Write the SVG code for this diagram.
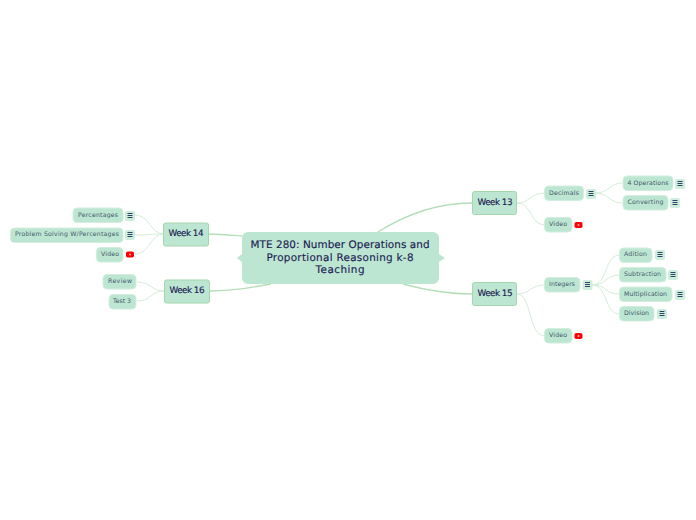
<svg xmlns="http://www.w3.org/2000/svg" width="696" height="520" viewBox="0 0 696 520">
<style>
text{font-family:"DejaVu Sans","Liberation Sans",sans-serif;text-anchor:middle;dominant-baseline:central;text-rendering:geometricPrecision}
.root{fill:#bce6d1}
.t0{font-size:10.4px;fill:#1c1c54;stroke:#1c1c54;stroke-width:.15}
.t1{font-size:8.8px;fill:#1c1c54;stroke:#1c1c54;stroke-width:.15}
.t2{font-size:6.2px;fill:#46566f}
.main{fill:#bce6d1;stroke:#a5d6ac;stroke-width:1}
.sub{fill:#bce6d1;stroke:#d3eedf;stroke-width:1}
.ib{fill:#cdeedd}
.bar{stroke:#2f4266;stroke-width:1}
.c1{fill:none;stroke:#b5deb8;stroke-width:1.3}
.c2{fill:none;stroke:#d5eed9;stroke-width:1}
</style>
<defs>
<g id="menu"><rect class="ib" x="-1" y="-1" width="10" height="10" rx="2"/><path class="bar" d="M1.5 1.5H6.5M1.5 3.5H6.5M1.5 5.5H6.5" fill="none"/></g>
<g id="yt"><rect x="0" y="0" width="8" height="6" rx="1.8" fill="#f00"/><circle cx="4" cy="3" r="1" fill="#ffb3b3"/></g>
</defs>
<g id="connectors">
<path class="c1" d="M378 232C405 215 435 203 472 203"/>
<path class="c1" d="M403 284C425 290 445 294 472 294"/>
<path class="c1" d="M242 236C230 235 220 234 209 234"/>
<path class="c1" d="M271 284C250 288 232 291 210 291"/>
<path class="c2" d="M517 203C530 203 530 193 545 193"/>
<path class="c2" d="M517 203C532 203 530 225 545 225"/>
<path class="c2" d="M595 193C610 193 608 183 623 183"/>
<path class="c2" d="M595 193C610 193 608 203 623 203"/>
<path class="c2" d="M517 294C530 294 530 285 545 285"/>
<path class="c2" d="M517 294C532 294 528 336 545 336"/>
<path class="c2" d="M592 285C608 285 604 255 620 255"/>
<path class="c2" d="M592 285C608 285 604 275 620 275"/>
<path class="c2" d="M592 285C608 285 604 294 620 294"/>
<path class="c2" d="M592 285C608 285 604 314 620 314"/>
<path class="c2" d="M164 234C150 234 150 215 135 215"/>
<path class="c2" d="M164 234C150 234 150 235 135 235"/>
<path class="c2" d="M164 234C150 234 150 254 135 254"/>
<path class="c2" d="M165 291C150 291 152 282 137 282"/>
<path class="c2" d="M165 291C150 291 152 301 137 301"/>
</g>
<g id="central"><path class="root" d="M248 232H433a6 6 0 0 1 6 6V254L445 258 439 262V278a6 6 0 0 1-6 6H248a6 6 0 0 1-6-6V262L237 258 242 254V238a6 6 0 0 1 6-6Z"/>
<text class="t0" x="340" y="245" textLength="179">MTE 280: Number Operations and</text>
<text class="t0" x="340" y="258" textLength="147">Proportional Reasoning k-8</text>
<text class="t0" x="340" y="270" textLength="49">Teaching</text></g>
<g id="week13"><rect class="main" x="472.5" y="191.5" width="44" height="23" rx="2"/><text class="t1" x="495" y="203" textLength="35">Week 13</text></g>
<g id="decimals"><rect class="sub" x="544.5" y="186" width="39" height="14.5" rx="4"/><text class="t2" x="564" y="193" textLength="30">Decimals</text><use href="#menu" x="587" y="190"/></g>
<g id="ops"><rect class="sub" x="623" y="176" width="50" height="14.5" rx="4"/><text class="t2" x="648" y="183" textLength="41">4 Operations</text><use href="#menu" x="676" y="180"/></g>
<g id="converting"><rect class="sub" x="623" y="195.5" width="45" height="14.5" rx="4"/><text class="t2" x="645.5" y="202.5" textLength="36">Converting</text><use href="#menu" x="671" y="199"/></g>
<g id="video13"><rect class="sub" x="544.5" y="217.5" width="27.5" height="14.5" rx="4"/><text class="t2" x="558" y="224.5" textLength="18">Video</text><use href="#yt" x="574.5" y="222"/></g>
<g id="week15"><rect class="main" x="472.5" y="282.5" width="44" height="23" rx="2"/><text class="t1" x="495" y="294" textLength="35">Week 15</text></g>
<g id="integers"><rect class="sub" x="544.5" y="277.5" width="35.5" height="14.5" rx="4"/><text class="t2" x="562" y="284.5" textLength="26">Integers</text><use href="#menu" x="583.5" y="281"/></g>
<g id="adition"><rect class="sub" x="619.5" y="248" width="32.5" height="14.5" rx="4"/><text class="t2" x="635.5" y="254.5" textLength="23">Adition</text><use href="#menu" x="656" y="251"/></g>
<g id="subtraction"><rect class="sub" x="619.5" y="267.5" width="46.5" height="14.5" rx="4"/><text class="t2" x="642.5" y="274.5" textLength="37">Subtraction</text><use href="#menu" x="669" y="271"/></g>
<g id="multiplication"><rect class="sub" x="619.5" y="287" width="52.5" height="14.5" rx="4"/><text class="t2" x="645.5" y="294" textLength="43">Multiplication</text><use href="#menu" x="676" y="291"/></g>
<g id="division"><rect class="sub" x="619.5" y="306.5" width="34.5" height="14.5" rx="4"/><text class="t2" x="636.5" y="313.5" textLength="25">Division</text><use href="#menu" x="658" y="310"/></g>
<g id="video15"><rect class="sub" x="544.5" y="328.5" width="27.5" height="14.5" rx="4"/><text class="t2" x="558" y="335.5" textLength="18">Video</text><use href="#yt" x="574.5" y="333"/></g>
<g id="week14"><rect class="main" x="163.5" y="223" width="45" height="23" rx="2"/><text class="t1" x="186" y="234" textLength="35">Week 14</text></g>
<g id="percentages"><rect class="sub" x="73" y="208" width="50" height="14.5" rx="4"/><text class="t2" x="98" y="215" textLength="40">Percentages</text><use href="#menu" x="126" y="212"/></g>
<g id="problem"><rect class="sub" x="10.5" y="228" width="112.5" height="14.5" rx="4"/><text class="t2" x="67" y="234.5" textLength="104">Problem Solving W/Percentages</text><use href="#menu" x="126" y="231"/></g>
<g id="video14"><rect class="sub" x="96.5" y="247.5" width="26.5" height="14.5" rx="4"/><text class="t2" x="110" y="254" textLength="18">Video</text><use href="#yt" x="126" y="251.5"/></g>
<g id="week16"><rect class="main" x="164.5" y="280" width="45" height="23" rx="2"/><text class="t1" x="187" y="291" textLength="35">Week 16</text></g>
<g id="review"><rect class="sub" x="103" y="274.5" width="33" height="14.5" rx="4"/><text class="t2" x="120" y="281.5" textLength="24">Review</text></g>
<g id="test3"><rect class="sub" x="109" y="294.5" width="27" height="14.5" rx="4"/><text class="t2" x="122" y="301" textLength="18">Test 3</text></g>
</svg>
